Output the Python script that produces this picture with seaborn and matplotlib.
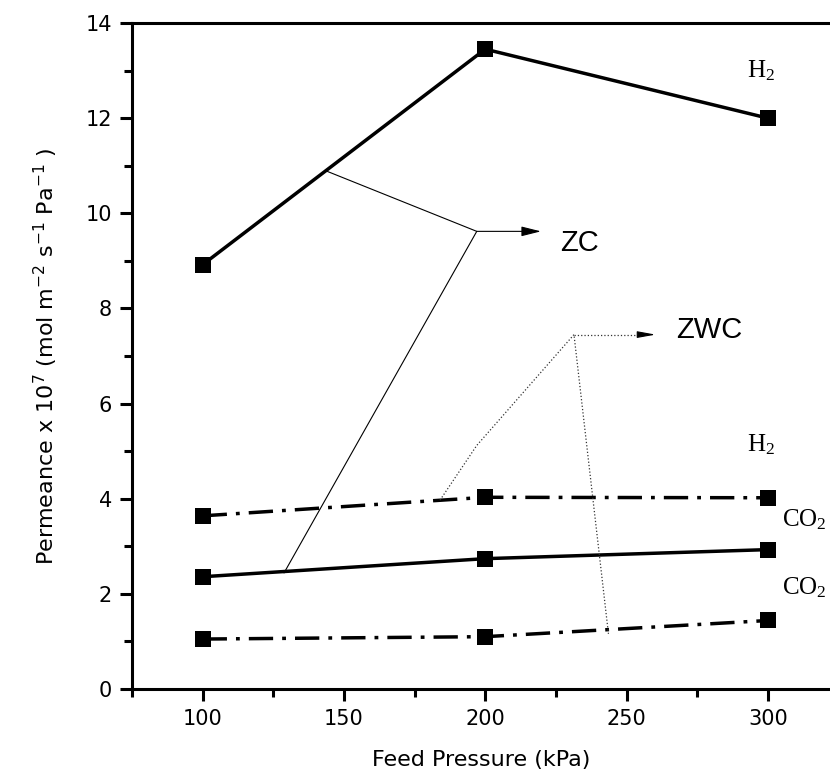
import matplotlib
matplotlib.use('Agg')
import matplotlib.pyplot as plt
import pandas as pd
import seaborn as sns
from matplotlib.ticker import MultipleLocator

sns.set_theme(style='ticks')
plt.rcParams['font.family'] = ['DejaVu Sans']
plt.rcParams['mathtext.default'] = 'regular'
plt.rcParams['text.color'] = 'black'
plt.rcParams['axes.labelcolor'] = 'black'

# Data (permeance x 1e7, mol m-2 s-1 Pa-1)
pressure = [100, 200, 300]
zc_h2 = [8.92, 13.45, 12.0]
zc_co2 = [2.36, 2.74, 2.93]
zwc_h2 = [3.64, 4.03, 4.02]
zwc_co2 = [1.05, 1.10, 1.44]

df = pd.DataFrame({
    'pressure': pressure * 4,
    'permeance': zc_h2 + zc_co2 + zwc_h2 + zwc_co2,
    'series': ['ZC H2'] * 3 + ['ZC CO2'] * 3 + ['ZWC H2'] * 3 + ['ZWC CO2'] * 3,
})

dashdot = (0, (7, 2.6, 1.1, 2.6))
styles = {'ZC H2': '-', 'ZC CO2': '-', 'ZWC H2': dashdot, 'ZWC CO2': dashdot}

fig = plt.figure(figsize=(8.3, 7.72), dpi=100)
ax = fig.add_axes([132 / 830, 83 / 772, 698 / 830, 666 / 772])

for name, ls in styles.items():
    sub = df[df['series'] == name]
    sns.lineplot(data=sub, x='pressure', y='permeance', ax=ax, color='black',
                 lw=2.5, linestyle=ls, marker='s', markersize=11,
                 markeredgewidth=0, legend=False)

sans = ['Liberation Sans', 'DejaVu Sans']
serif = ['Liberation Serif', 'DejaVu Serif']

# ZC callout (thin solid leaders)
ax.plot([143.3, 197.0, 128.8], [10.90, 9.62, 2.44], color='black', lw=0.8)
ax.annotate('', xy=(219.7, 9.62), xytext=(197.0, 9.62),
            arrowprops=dict(arrowstyle='-|>,head_length=0.6,head_width=0.15',
                            mutation_scale=20, color='black', lw=0.8,
                            shrinkA=0, shrinkB=0))
ax.text(226.5, 9.2, 'ZC', fontsize=21, family=sans, ha='left', va='baseline')

# ZWC callout (dotted leaders)
ax.plot([184, 197, 231.4, 243.6], [3.97, 5.12, 7.45, 1.16],
        color='#333333', lw=0.9, ls=':')
ax.plot([231.4, 255.6], [7.45, 7.45], color='#333333', lw=0.9, ls=':')
ax.annotate('', xy=(260.3, 7.45), xytext=(255.0, 7.45),
            arrowprops=dict(arrowstyle='-|>,head_length=0.55,head_width=0.1',
                            mutation_scale=20, color='black', lw=0.8,
                            shrinkA=0, shrinkB=0))
ax.text(267.7, 7.38, 'ZWC', fontsize=21, family=sans, ha='left', va='baseline')

# gas labels
ax.text(292.5, 12.86, 'H$_2$', fontsize=18, family=serif, va='baseline')
ax.text(292.5, 4.99, 'H$_2$', fontsize=18, family=serif, va='baseline')
ax.text(304.9, 3.41, 'CO$_2$', fontsize=18, family=serif, va='baseline')
ax.text(304.9, 1.98, 'CO$_2$', fontsize=18, family=serif, va='baseline')

ax.set_xlim(75, 322)
ax.set_ylim(0, 14)
ax.xaxis.set_major_locator(MultipleLocator(50))
ax.xaxis.set_minor_locator(MultipleLocator(25))
ax.yaxis.set_major_locator(MultipleLocator(2))
ax.yaxis.set_minor_locator(MultipleLocator(1))
ax.tick_params(which='major', direction='out', length=8.5, width=2.2,
               labelsize=15, pad=6, color='black', labelcolor='black')
ax.tick_params(which='minor', direction='out', length=5.5, width=2.2, color='black')
ax.xaxis.set_ticks_position('bottom')
ax.yaxis.set_ticks_position('left')

for side in ['left', 'bottom', 'top']:
    ax.spines[side].set_linewidth(2.2)
    ax.spines[side].set_color('black')
ax.spines['right'].set_visible(False)

ax.set_xlabel('Feed Pressure (kPa)', fontsize=16)
ax.set_ylabel('Permeance x 10$^{ 7}$ (mol m$^{-2}$ s$^{-1}$ Pa$^{-1}$ )', fontsize=16)
ax.xaxis.set_label_coords(0.5, -(750 - 689) / 666)
ax.yaxis.set_label_coords(-(132 - 60) / 698, 0.5)

fig.savefig('out.png', dpi=100)
